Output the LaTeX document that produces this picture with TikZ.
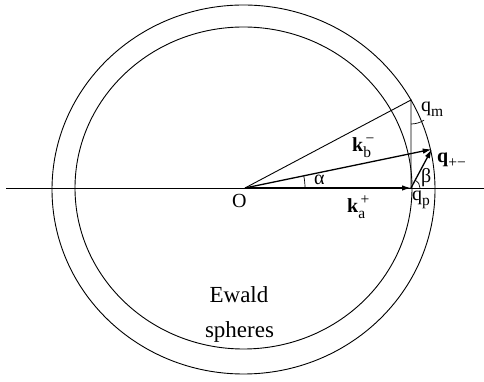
\documentclass[tikz,border=0pt]{standalone}
\usepackage{fontspec}
\usepackage{amsmath}
\setmainfont{Liberation Serif}
\DeclareMathSizes{20}{20}{15.5}{12}
\usetikzlibrary{arrows.meta}
\begin{document}
\begin{tikzpicture}[x=1pt,y=1pt,
  thinline/.style={line width=0.9pt},
  vec/.style={line width=1.3pt,-{Latex[length=9pt,width=5.5pt]}},
  lbl/.style={font=\fontsize{20}{22}\selectfont, inner sep=0pt, anchor=base west},
  big/.style={font=\fontsize{23}{25}\selectfont, inner sep=0pt, anchor=base},
  angarc/.style={line width=0.7pt}]
\useasboundingbox (0,0) rectangle (484,382);
\coordinate (O) at (245,194);
\coordinate (A) at (411,194);
\coordinate (B) at (431.7,232.7);
\coordinate (T) at (411,282);
\coordinate (L) at (6,194);
\coordinate (R) at (484,194);
\draw[thinline] (243.5,192.5) ellipse [x radius=191.5, y radius=184.5];
\draw[thinline] (243.5,194) ellipse [x radius=168.5, y radius=161];
\draw[thinline] (L) -- (R);
\draw[thinline] (O) -- (T) -- (A);
\draw[vec] (O) -- (A);
\draw[vec] (O) -- (B);
\draw[vec] (A) -- (B);
\draw[angarc] ([shift={(0:60)}]O) arc[start angle=0,end angle=11.7,radius=60];
\draw[angarc] ([shift={(0:9)}]A) arc[start angle=0,end angle=62,radius=9];
\draw[angarc] ([shift={(-90:24)}]T) arc[start angle=-90,end angle=-57,radius=24];
\node[lbl] (lO) at (232,174) {O};
\node[lbl] (lal) at (314,197) {α};
\node[lbl] (lbe) at (421,199) {β};
\node[lbl] (lkb) at (352,230) {$\textbf{k}^{\,\text{−}}_{\text{b}}$};
\node[lbl] (lka) at (347,169) {$\textbf{k}^{\,\text{+}}_{\text{a}}$};
\node[lbl] (lqm) at (421,270) {$\text{q}_{\text{m}}$};
\node[lbl] (lqp) at (412,181) {$\text{q}_{\text{p}}$};
\node[lbl] (lqpm) at (437,219) {$\textbf{q}_{\text{+−}}$};
\node[big] (ew) at (239,79) {Ewald};
\node[big] (sp) at (239.5,44) {spheres};
\end{tikzpicture}
\end{document}
